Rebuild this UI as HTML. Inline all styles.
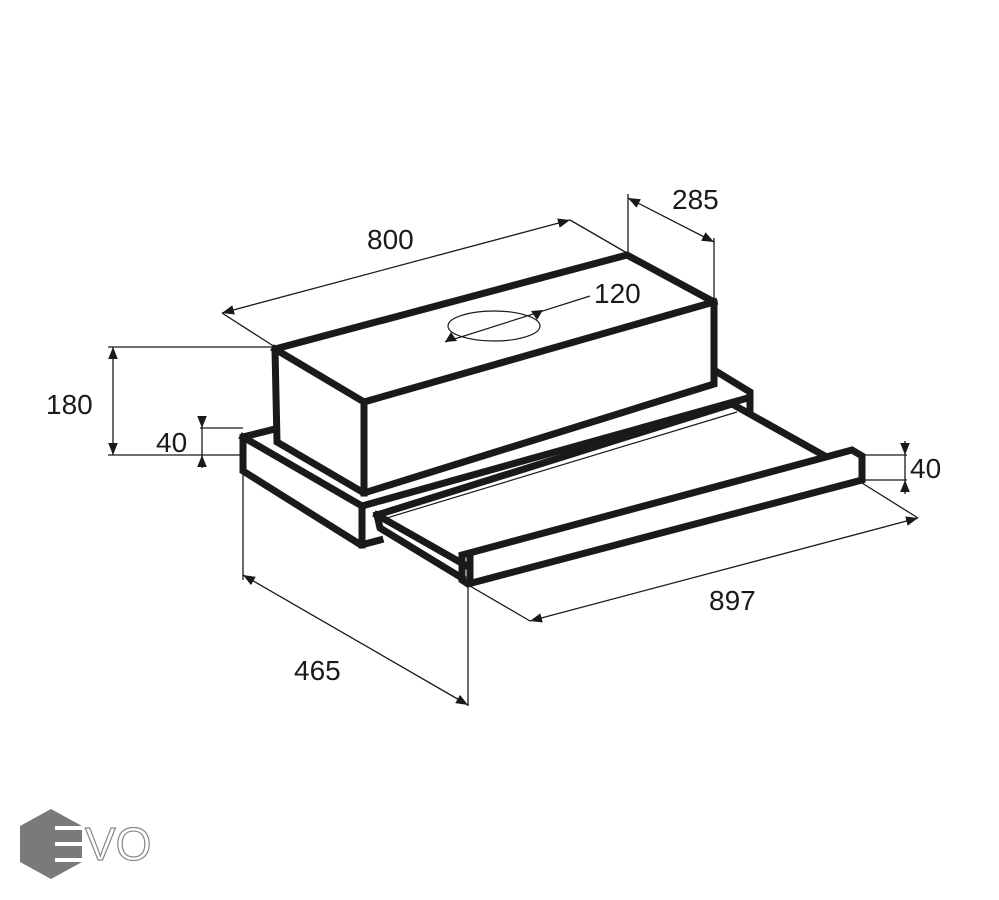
<!DOCTYPE html>
<html><head><meta charset="utf-8"><style>
html,body{margin:0;padding:0;background:#fff;}
svg{display:block;}
text{font-family:"Liberation Sans",Arial,sans-serif;fill:#1a1a1a;}
</style></head><body>
<svg width="999" height="900" viewBox="0 0 999 900" xmlns="http://www.w3.org/2000/svg">
<defs>
<marker id="ar" viewBox="0 0 10 10" refX="10" refY="5" markerWidth="12" markerHeight="12" markerUnits="userSpaceOnUse" orient="auto-start-reverse">
<path d="M0,1 L10,5 L0,9 z" fill="#1a1a1a"/></marker>
</defs>
<g fill="none" stroke="#1a1a1a" stroke-width="1.3">
<line x1="275" y1="347" x2="222" y2="313"/>
<line x1="627" y1="253" x2="570" y2="220"/>
<line x1="222" y1="313" x2="570" y2="220" marker-start="url(#ar)" marker-end="url(#ar)"/>
<line x1="628" y1="253" x2="628" y2="194"/>
<line x1="714" y1="300" x2="714" y2="238"/>
<line x1="628" y1="198" x2="714" y2="242" marker-start="url(#ar)" marker-end="url(#ar)"/>
<line x1="108" y1="347" x2="275" y2="347"/>
<line x1="108" y1="455" x2="243" y2="455"/>
<line x1="113" y1="347" x2="113" y2="455" marker-start="url(#ar)" marker-end="url(#ar)"/>
<line x1="200" y1="428" x2="243" y2="428"/>
<line x1="202" y1="416" x2="202" y2="428" marker-end="url(#ar)"/>
<line x1="202" y1="468" x2="202" y2="455" marker-end="url(#ar)"/>
<line x1="202" y1="428" x2="202" y2="455"/>
<line x1="862" y1="455" x2="907" y2="455"/>
<line x1="862" y1="480" x2="907" y2="480"/>
<line x1="905" y1="441" x2="905" y2="455" marker-end="url(#ar)"/>
<line x1="905" y1="494" x2="905" y2="480" marker-end="url(#ar)"/>
<line x1="905" y1="455" x2="905" y2="480"/>
<line x1="862" y1="483" x2="918" y2="518"/>
<line x1="470" y1="586" x2="530" y2="621"/>
<line x1="530" y1="621" x2="918" y2="518" marker-start="url(#ar)" marker-end="url(#ar)"/>
<line x1="243" y1="471" x2="243" y2="580"/>
<line x1="468" y1="586" x2="468" y2="706"/>
<line x1="243" y1="575" x2="468" y2="705" marker-start="url(#ar)" marker-end="url(#ar)"/>
</g>
<g fill="none" stroke="#1a1a1a" stroke-width="7" stroke-linejoin="miter" stroke-linecap="square">
<path d="M275,429 L243,437 L243,471 L361,545 L380,540"/>
<path d="M243,437 L362,506 L362,545"/>
<path d="M362,506 L748,398"/>
<path d="M714,370 L750,392 L750,410"/>
<path d="M377,515 L732,404 L823,455"/>
<path d="M377,515 L380,528 L462,578"/>
<path d="M377,515 L465,565"/>
<path d="M462,555 L852,450 L862,456 L862,480 L468,584 L462,580 Z"/>
<path d="M470,558 L470,582"/>
<path d="M275,349 L627,255 L714,302 L714,384 L364,493 L277,442 Z" fill="#fff"/>
<path d="M275,349 L364,402 L714,302"/>
<path d="M364,402 L364,493"/>
</g>
<g fill="none" stroke="#1a1a1a" stroke-width="1.2">
<line x1="468" y1="553" x2="852" y2="452"/>
<line x1="380" y1="520" x2="737" y2="412"/>
<ellipse cx="494" cy="326" rx="46" ry="15"/>
<line x1="445" y1="342" x2="590" y2="296"/>
</g>
<path d="M445,342 l12,-1 l-6,-9z M543,310 l-12,1 l6,9z" fill="#1a1a1a"/>
<g font-size="28">
<text x="367" y="249">800</text>
<text x="672" y="209">285</text>
<text x="594" y="303">120</text>
<text x="46" y="414">180</text>
<text x="156" y="452">40</text>
<text x="910" y="478">40</text>
<text x="709" y="610">897</text>
<text x="294" y="680">465</text>
</g>
<polygon points="51,809 82,826 82,862 51,879 20,862 20,826" fill="#7a7a7a"/>
<rect x="55" y="826" width="29" height="4" fill="#fff"/>
<rect x="55" y="842" width="29" height="4" fill="#fff"/>
<rect x="55" y="858" width="29" height="4" fill="#fff"/>
<text x="85" y="860" font-size="46" style="fill:#fff;stroke:#888;stroke-width:1.2">VO</text>
</svg>
</body></html>
